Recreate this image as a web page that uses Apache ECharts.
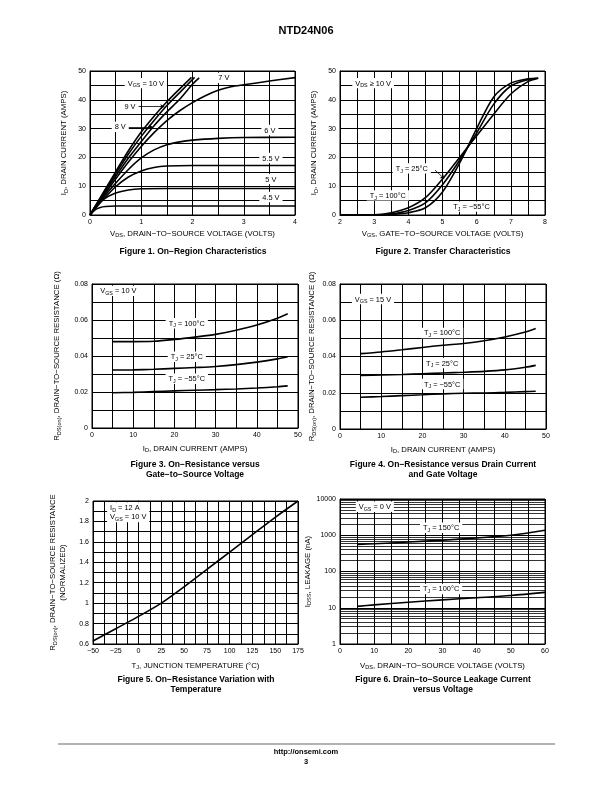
<!DOCTYPE html>
<html><head><meta charset="utf-8">
<script src="https://cdn.jsdelivr.net/npm/echarts@6/dist/echarts.min.js"></script>
<style>html,body{margin:0;padding:0;background:#fff}#c{width:612px;height:792px}</style>
</head><body><div id="c"></div>
<script>
// ---------- DATA ----------
// Figure 1: On-Region Characteristics  [V_DS (V), I_D (A)]
const f1_vgs10 = [[0,0],[0.25,7.5],[0.5,15],[0.75,22.3],[1,28.8],[1.25,34.3],[1.5,39.3],[1.75,43.8],[1.98,47.8]];
const f1_vgs9  = [[0,0],[0.25,7.2],[0.5,14.3],[0.75,21.2],[1,27.3],[1.25,32.8],[1.5,38],[1.75,42.5],[2.04,47.8]];
const f1_vgs8  = [[0,0],[0.25,6.8],[0.5,13.4],[0.75,19.8],[1,25.5],[1.25,31],[1.5,35.8],[1.75,40.2],[2,45.4],[2.13,47.6]];
const f1_vgs7  = [[0,0],[0.25,6.3],[0.5,12.5],[0.75,18.4],[1,23.8],[1.25,28.6],[1.5,32.8],[1.75,36.2],[2,39],[2.25,41.4],[2.5,43.3],[2.75,44.5],[3,45.2],[3.5,46.5],[4,47.7]];
const f1_vgs6  = [[0,0],[0.25,5.8],[0.5,11],[0.75,15.8],[1,19.8],[1.25,22.6],[1.5,24.4],[1.75,25.4],[2,26],[2.5,26.6],[3,26.9],[4,27]];
const f1_vgs55 = [[0,0],[0.25,5.2],[0.5,9.8],[0.75,13.2],[1,15.3],[1.25,16.5],[1.5,17],[2,17.2],[4,17.2]];
const f1_vgs5  = [[0,0],[0.1,2.8],[0.25,5.3],[0.5,7.6],[0.75,8.7],[1,9.1],[1.5,9.2],[4,9.2]];
const f1_vgs45 = [[0,0],[0.1,1.8],[0.2,2.6],[0.3,2.95],[0.5,3.1],[1,3.1],[4,3.1]];
// Figure 2: Transfer Characteristics [V_GS (V), I_D (A)]
const f2_tj100 = [[2,0],[3,0.1],[3.5,0.8],[4,2.5],[4.5,6],[5,12.5],[5.5,20],[6,27.5],[6.5,35],[7,42],[7.5,46.3],[7.8,47.5]];
const f2_tj25  = [[2,0],[3,0],[3.5,0.4],[4,1.6],[4.5,4.2],[5,10.5],[5.5,19],[6,28.5],[6.5,38.5],[7,44.8],[7.5,47],[7.8,47.5]];
const f2_tjm55 = [[2,0],[3,0],[3.5,0.2],[4,0.8],[4.5,2.5],[5,8],[5.5,18],[6,30],[6.5,41],[7,45.8],[7.5,47.3],[7.8,47.5]];
// Figure 3: R_DS(on) vs I_D, V_GS = 10 V
const f3_id = [5,10,15,20,25,30,35,40,45,47.5];
const f3_tj100 = [0.048,0.048,0.0482,0.0492,0.0505,0.052,0.0543,0.0572,0.061,0.0635];
const f3_tj25  = [0.0322,0.0323,0.0326,0.0331,0.0336,0.0342,0.0352,0.0366,0.0384,0.0396];
const f3_tjm55 = [0.0196,0.0198,0.0202,0.0206,0.021,0.0213,0.0217,0.0222,0.0229,0.0234];
// Figure 4: R_DS(on) vs I_D, V_GS = 15 V
const f4_id = [5,10,15,20,25,30,35,40,45,47.5];
const f4_tj100 = [0.0416,0.0425,0.0437,0.045,0.0462,0.0472,0.0487,0.0508,0.0535,0.0554];
const f4_tj25  = [0.0296,0.0298,0.0301,0.0305,0.0309,0.0313,0.0318,0.0326,0.0341,0.0351];
const f4_tjm55 = [0.0175,0.0179,0.0184,0.0189,0.0194,0.0197,0.0199,0.0202,0.0206,0.0208];
// Figure 5: normalized R_DS(on) vs T_J
const f5_tj = [-50,-25,0,25,50,75,100,125,150,175];
const f5_r  = [0.63,0.75,0.87,1.0,1.16,1.33,1.5,1.67,1.84,2.0];
// Figure 6: I_DSS (nA) vs V_DS
const f6_vds   = [5,10,20,30,40,50,60];
const f6_tj150 = [560,580,650,730,840,1000,1380];
const f6_tj100 = [10.9,12,14.2,16.5,18.9,21.8,26.5];
// log-axis minor grid values
const f6_minor = [2,3,4,5,6,7,8,9,20,30,40,50,60,70,80,90,200,300,400,500,600,700,800,900,2000,3000,4000,5000,6000,7000,8000,9000];

// ---------- STYLE ----------
const FF = '"Liberation Sans", Arial, Helvetica, sans-serif';
const mkRich = (fs) => ({
  n: {fontSize: fs, fontFamily: FF, color: '#000', lineHeight: fs + 2},
  s: {fontSize: fs * 0.72, fontFamily: FF, color: '#000', lineHeight: fs * 0.72, verticalAlign: 'bottom'}
});
const richName = mkRich(7.8);
const richNote = mkRich(7.4);
const zip = (xs, ys) => xs.map((x, i) => [x, ys[i]]);
const sub = (a, b, c) => '{n|' + a + '}{s|' + b + '}{n|' + c + '}';

const grids = [
  {left: 90, top: 71, width: 205, height: 144},
  {left: 340, top: 71, width: 205, height: 144},
  {left: 92, top: 284, width: 206, height: 144},
  {left: 340, top: 284, width: 206, height: 145},
  {left: 93, top: 501, width: 205, height: 143},
  {left: 340, top: 499, width: 205, height: 145}
].map(g => Object.assign({show: true, borderColor: '#000', borderWidth: 1, containLabel: false}, g));

function axis(i, o) {
  return Object.assign({
    type: 'value', gridIndex: i,
    axisLine: {show: true, lineStyle: {color: '#000', width: 1}},
    axisTick: {show: false},
    splitLine: {show: true, lineStyle: {color: '#000', width: 1}},
    nameLocation: 'middle',
    nameTextStyle: {rich: richName}
  }, o, {axisLabel: Object.assign({color: '#000', fontSize: 7, fontFamily: FF, margin: 4, showMinLabel: true, showMaxLabel: true}, o.axisLabel || {})});
}
const intOnly = v => (Math.abs(v - Math.round(v)) < 1e-6 ? String(Math.round(v)) : '');
const every = step => v => (Math.abs(v / step - Math.round(v / step)) < 1e-6 ? String(Math.round(v * 1000) / 1000) : '');
const rFmt = v => { const k = Math.round(v * 100); return k % 2 === 0 ? (k === 0 ? '0' : (k / 100).toFixed(2)) : ''; };
const nFmt = v => { const k = Math.round(v * 10); return k % 2 === 0 ? String(k / 10) : ''; };

const xAxes = [
  axis(0, {min: 0, max: 4, interval: 0.5, axisLabel: {formatter: intOnly}, name: sub('V', 'DS', ', DRAIN−TO−SOURCE VOLTAGE (VOLTS)'), nameGap: 14}),
  axis(1, {min: 2, max: 8, interval: 0.5, axisLabel: {formatter: intOnly}, name: sub('V', 'GS', ', GATE−TO−SOURCE VOLTAGE (VOLTS)'), nameGap: 14}),
  axis(2, {min: 0, max: 50, interval: 5, axisLabel: {formatter: every(10)}, name: sub('I', 'D', ', DRAIN CURRENT (AMPS)'), nameGap: 16}),
  axis(3, {min: 0, max: 50, interval: 5, axisLabel: {formatter: every(10)}, name: sub('I', 'D', ', DRAIN CURRENT (AMPS)'), nameGap: 16}),
  axis(4, {min: -50, max: 175, interval: 12.5, axisLabel: {formatter: v => (Math.abs(v % 25) < 1e-6 ? String(v).replace('-', '−') : '')}, name: sub('T', 'J', ', JUNCTION TEMPERATURE (°C)'), nameGap: 17}),
  axis(5, {min: 0, max: 60, interval: 5, axisLabel: {formatter: every(10)}, name: sub('V', 'DS', ', DRAIN−TO−SOURCE VOLTAGE (VOLTS)'), nameGap: 17})
];
const yAxes = [
  axis(0, {min: 0, max: 50, interval: 5, axisLabel: {formatter: every(10)}, name: sub('I', 'D', ', DRAIN CURRENT (AMPS)'), nameRotate: 90, nameGap: 21}),
  axis(1, {min: 0, max: 50, interval: 5, axisLabel: {formatter: every(10)}, name: sub('I', 'D', ', DRAIN CURRENT (AMPS)'), nameRotate: 90, nameGap: 21}),
  axis(2, {min: 0, max: 0.08, interval: 0.01, axisLabel: {formatter: rFmt}, name: sub('R', 'DS(on)', ', DRAIN−TO−SOURCE RESISTANCE (Ω)'), nameRotate: 90, nameGap: 30}),
  axis(3, {min: 0, max: 0.08, interval: 0.01, axisLabel: {formatter: rFmt}, name: sub('R', 'DS(on)', ', DRAIN−TO−SOURCE RESISTANCE (Ω)'), nameRotate: 90, nameGap: 23}),
  axis(4, {min: 0.6, max: 2, interval: 0.1, axisLabel: {formatter: nFmt}, name: sub('R', 'DS(on)', ', DRAIN−TO−SOURCE RESISTANCE') + '\n{n|(NORMALIZED)}', nameRotate: 90, nameGap: 25}),
  axis(5, {type: 'log', logBase: 10, min: 1, max: 10000, axisLabel: {formatter: v => String(Math.round(v))}, name: sub('I', 'DSS', ', LEAKAGE (nA)'), nameRotate: 90, nameGap: 23})
];

function line(i, data, extra) {
  return Object.assign({type: 'line', xAxisIndex: i, yAxisIndex: i, data: data, showSymbol: false, symbol: 'none',
    smooth: 0.3, lineStyle: {color: '#000', width: 1.6}, silent: true, z: 3}, extra || {});
}
function notes(list) {
  return {symbol: 'rect', symbolSize: 1, itemStyle: {color: 'rgba(0,0,0,0)'}, silent: true, z: 10,
    data: list.map(n => ({coord: [n[0], n[1]], label: {show: true, position: 'inside', formatter: n[2], rich: richNote,
      backgroundColor: '#fff', padding: [1, 3, 0, 3], color: '#000', align: n[3] || 'center'}}))};
}
function leaders(list) {
  return {symbol: ['none', 'arrow'], symbolSize: 4, silent: true, label: {show: false},
    lineStyle: {color: '#000', width: 0.8, type: 'solid'},
    data: list.map(l => [{coord: [l[0], l[1]]}, {coord: [l[2], l[3]]}])};
}
const TJ = t => sub('T', 'J', ' = ' + t);

const series = [
  line(0, f1_vgs10, {
    markPoint: notes([
      [1.09, 45.8, sub('V', 'GS', ' = 10 V')], [2.61, 47.6, '{n|7 V}'], [0.78, 37.8, '{n|9 V}'], [0.59, 30.6, '{n|8 V}'],
      [3.51, 29.5, '{n|6 V}'], [3.53, 19.8, '{n|5.5 V}'], [3.53, 12.5, '{n|5 V}'], [3.53, 6.25, '{n|4.5 V}']]),
    markLine: leaders([[0.92, 37.6, 1.45, 37.6], [0.72, 30.6, 1.22, 30.6]])
  }),
  line(0, f1_vgs9), line(0, f1_vgs8), line(0, f1_vgs7), line(0, f1_vgs6),
  line(0, f1_vgs55), line(0, f1_vgs5), line(0, f1_vgs45),
  line(1, f2_tj25, {
    markPoint: notes([[2.97, 45.8, sub('V', 'DS', ' ≥ 10 V')], [4.1, 16.2, TJ('25°C')], [3.4, 6.8, TJ('100°C')], [5.85, 2.9, TJ('−55°C')]]),
    markLine: leaders([[4.78, 15.6, 5.05, 12.6]])
  }),
  line(1, f2_tj100), line(1, f2_tjm55),
  line(2, zip(f3_id, f3_tj100), {
    markPoint: notes([[6.4, 0.0762, sub('V', 'GS', ' = 10 V')], [23, 0.0582, TJ('100°C')], [23, 0.0396, TJ('25°C')], [23, 0.0274, TJ('−55°C')]])
  }),
  line(2, zip(f3_id, f3_tj25)), line(2, zip(f3_id, f3_tjm55)),
  line(3, zip(f4_id, f4_tj100), {
    markPoint: notes([[8.0, 0.0717, sub('V', 'GS', ' = 15 V')], [24.8, 0.053, TJ('100°C')], [24.8, 0.0364, TJ('25°C')], [24.8, 0.0248, TJ('−55°C')]])
  }),
  line(3, zip(f4_id, f4_tj25)), line(3, zip(f4_id, f4_tjm55)),
  line(4, zip(f5_tj, f5_r), {
    markPoint: notes([[-34.5, 1.89, sub('I', 'D', ' = 12 A') + '\n' + sub('V', 'GS', ' = 10 V'), 'left']])
  }),
  line(5, zip(f6_vds, f6_tj150), {
    markPoint: notes([[10.2, 6100, sub('V', 'GS', ' = 0 V')], [29.6, 1610, TJ('150°C')], [29.6, 33, TJ('100°C')]]),
    markLine: {symbol: ['none', 'none'], silent: true, label: {show: false}, lineStyle: {color: '#000', width: 0.8, type: 'solid'},
      data: f6_minor.map(v => ({yAxis: v}))}
  }),
  line(5, zip(f6_vds, f6_tj100))
];

const capFont = 'bold 8.5px ' + FF;
function txt(x, y, t, font) {
  return {type: 'text', x: x, y: y, silent: true, style: {text: t, font: font, fill: '#000', align: 'center', verticalAlign: 'middle'}};
}
const graphic = [
  txt(306, 31, 'NTD24N06', 'bold 11px ' + FF),
  txt(193, 252, 'Figure 1. On−Region Characteristics', capFont),
  txt(443, 252, 'Figure 2. Transfer Characteristics', capFont),
  txt(195, 465, 'Figure 3. On−Resistance versus', capFont),
  txt(195, 474.5, 'Gate−to−Source Voltage', capFont),
  txt(443, 465, 'Figure 4. On−Resistance versus Drain Current', capFont),
  txt(443, 474.5, 'and Gate Voltage', capFont),
  txt(196, 680, 'Figure 5. On−Resistance Variation with', capFont),
  txt(196, 689.5, 'Temperature', capFont),
  txt(443, 680, 'Figure 6. Drain−to−Source Leakage Current', capFont),
  txt(443, 689.5, 'versus Voltage', capFont),
  {type: 'line', silent: true, shape: {x1: 58, y1: 744, x2: 555, y2: 744}, style: {stroke: '#9a9a9a', lineWidth: 1.5}},
  txt(306, 752, 'http://onsemi.com', 'bold 7.5px ' + FF),
  txt(306, 762, '3', 'bold 7.5px ' + FF)
];

const chart = echarts.init(document.getElementById('c'), null, {renderer: 'canvas'});
chart.setOption({
  backgroundColor: '#fff',
  animation: false,
  grid: grids,
  xAxis: xAxes,
  yAxis: yAxes,
  series: series,
  graphic: graphic
});
</script></body></html>
